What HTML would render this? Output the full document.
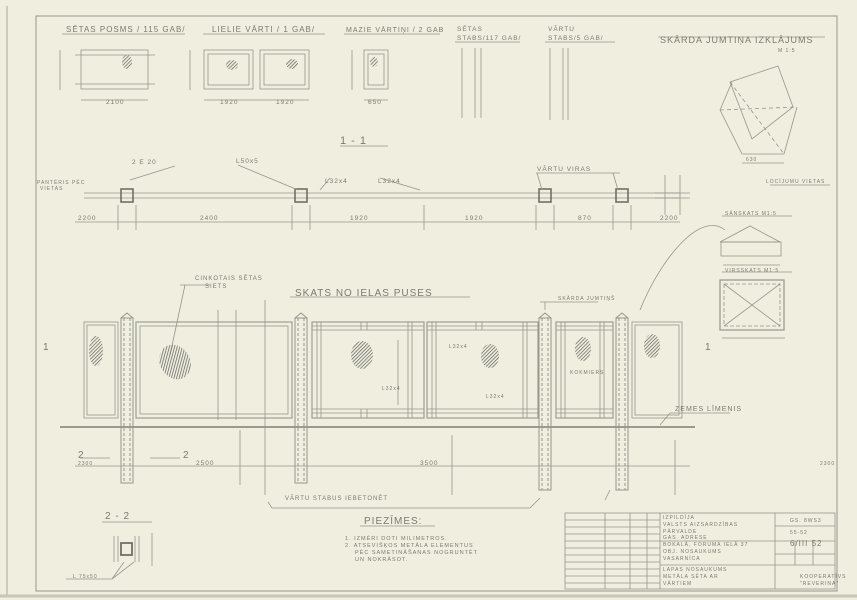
<!DOCTYPE html>
<html><head><meta charset="utf-8"><style>
html,body{margin:0;padding:0;background:#efeedf;}
svg{display:block}
text{font-family:"Liberation Sans",sans-serif;fill:#7a7a72;letter-spacing:1px}
</style></head><body>
<svg width="857" height="600" viewBox="0 0 857 600" xmlns="http://www.w3.org/2000/svg">
<defs>
<pattern id="h" width="2.5" height="2.5" patternUnits="userSpaceOnUse" patternTransform="rotate(45)"><line x1="0" y1="0" x2="0" y2="2.5" stroke="#66665f" stroke-width="1.5"/></pattern>
</defs>
<rect width="857" height="600" fill="#efeedf"/>
<g fill="none" stroke="#96968c" stroke-width="0.8">
<rect x="36" y="16" width="801" height="575" stroke-width="1"/>
<line x1="7" y1="6" x2="7" y2="596"/>
<line x1="0" y1="596" x2="857" y2="596" stroke="#c8c6b8" stroke-width="3"/>
<line x1="62" y1="34" x2="185" y2="34"/><line x1="203" y1="34" x2="325" y2="34"/><line x1="344" y1="34" x2="440" y2="34"/>
<line x1="455" y1="42" x2="520" y2="42"/><line x1="545" y1="42" x2="615" y2="42"/>
<rect x="81" y="50" width="67" height="39"/>
<line x1="75" y1="55" x2="155" y2="55"/><line x1="75" y1="84" x2="155" y2="84"/>
<line x1="60" y1="50" x2="60" y2="90"/><line x1="81" y1="100" x2="148" y2="100"/>
<rect x="204" y="50" width="49" height="39"/><rect x="208" y="54" width="41" height="31"/>
<rect x="260" y="50" width="49" height="39"/><rect x="264" y="54" width="41" height="31"/>
<line x1="190" y1="50" x2="190" y2="90"/><line x1="204" y1="100" x2="309" y2="100"/>
<rect x="364" y="50" width="24" height="39"/><rect x="368" y="54" width="16" height="31"/>
<line x1="352" y1="50" x2="352" y2="90"/><line x1="364" y1="100" x2="388" y2="100"/>
<line x1="462" y1="48" x2="462" y2="118"/><line x1="475" y1="48" x2="475" y2="118"/><line x1="481" y1="48" x2="481" y2="118"/>
<line x1="550" y1="48" x2="550" y2="120"/><line x1="563" y1="48" x2="563" y2="120"/><line x1="568" y1="48" x2="568" y2="120"/>
<line x1="340" y1="146" x2="388" y2="146"/>
<line x1="84" y1="193" x2="680" y2="193"/><line x1="84" y1="198" x2="680" y2="198"/>
<rect x="121" y="189" width="12" height="13" stroke-width="1.6" stroke="#707069"/>
<rect x="295" y="189" width="12" height="13" stroke-width="1.6" stroke="#707069"/>
<rect x="539" y="189" width="12" height="13" stroke-width="1.6" stroke="#707069"/>
<rect x="616" y="189" width="12" height="13" stroke-width="1.6" stroke="#707069"/>
<line x1="75" y1="222" x2="680" y2="222"/>
<line x1="118" y1="205" x2="118" y2="230"/><line x1="136" y1="205" x2="136" y2="230"/><line x1="292" y1="205" x2="292" y2="230"/><line x1="310" y1="205" x2="310" y2="230"/><line x1="424" y1="205" x2="424" y2="230"/><line x1="536" y1="205" x2="536" y2="230"/><line x1="554" y1="205" x2="554" y2="230"/><line x1="613" y1="205" x2="613" y2="230"/><line x1="631" y1="205" x2="631" y2="230"/>
<line x1="130" y1="180" x2="175" y2="166"/><line x1="238" y1="165" x2="298" y2="190"/><line x1="320" y1="190" x2="330" y2="178"/><line x1="380" y1="178" x2="420" y2="190"/>
<line x1="536" y1="173" x2="620" y2="173"/><line x1="537" y1="173" x2="542" y2="190"/><line x1="613" y1="173" x2="618" y2="190"/>
<line x1="665" y1="175" x2="665" y2="215"/><line x1="680" y1="175" x2="680" y2="215"/><line x1="655" y1="193" x2="690" y2="193"/><line x1="655" y1="198" x2="690" y2="198"/>
<line x1="658" y1="37" x2="825" y2="37"/>
<polygon points="730,82 778,66 793,107 752,139"/>
<line x1="732" y1="82" x2="720" y2="110"/><line x1="720" y1="110" x2="742" y2="154"/><line x1="742" y1="154" x2="784" y2="154"/><line x1="784" y1="154" x2="797" y2="107"/>
<line x1="720" y1="110" x2="797" y2="107" stroke-dasharray="4 3"/><line x1="730" y1="82" x2="784" y2="154" stroke-dasharray="4 3"/>
<line x1="742" y1="163" x2="784" y2="163"/><line x1="770" y1="185" x2="830" y2="185"/>
<polygon points="720,242 750,226 780,242"/><rect x="721" y="242" width="60" height="14"/>
<line x1="723" y1="265" x2="780" y2="265"/><line x1="722" y1="216" x2="792" y2="216"/>
<line x1="722" y1="272" x2="792" y2="272"/>
<rect x="720" y="280" width="64" height="50" stroke-width="1.2"/><rect x="724" y="284" width="56" height="42" stroke-dasharray="4 2"/>
<line x1="724" y1="284" x2="780" y2="326"/><line x1="780" y1="284" x2="724" y2="326"/>
<line x1="722" y1="338" x2="785" y2="338"/>
<path d="M725,230 C700,210 660,260 640,310"/>
<line x1="290" y1="297" x2="470" y2="297"/>
<line x1="60" y1="427" x2="695" y2="427" stroke-width="1.4" stroke="#7e7e76"/>
<g stroke-width="1">
<rect x="121" y="318" width="12" height="165"/><line x1="124" y1="318" x2="124" y2="483" stroke-dasharray="3 2"/><line x1="130" y1="318" x2="130" y2="483" stroke-dasharray="3 2"/>
<rect x="295" y="318" width="12" height="165"/><line x1="298" y1="318" x2="298" y2="483" stroke-dasharray="3 2"/><line x1="304" y1="318" x2="304" y2="483" stroke-dasharray="3 2"/>
<rect x="539" y="318" width="12" height="172"/><line x1="542" y1="318" x2="542" y2="490" stroke-dasharray="3 2"/><line x1="548" y1="318" x2="548" y2="490" stroke-dasharray="3 2"/>
<rect x="616" y="318" width="12" height="172"/><line x1="619" y1="318" x2="619" y2="490" stroke-dasharray="3 2"/><line x1="625" y1="318" x2="625" y2="490" stroke-dasharray="3 2"/>
<polyline points="121,318 127,313 133,318"/><polyline points="295,318 301,313 307,318"/><polyline points="539,318 545,313 551,318"/><polyline points="616,318 622,313 628,318"/>
</g>
<rect x="84" y="322" width="34" height="96"/><rect x="87" y="325" width="28" height="90"/>
<rect x="136" y="322" width="156" height="96" stroke-width="1.1"/><rect x="140" y="326" width="148" height="88"/>
<!-- gate 1 -->
<rect x="312" y="322" width="112" height="96" stroke-width="1.1"/>
<line x1="312" y1="326" x2="424" y2="326"/><line x1="312" y1="330" x2="424" y2="330"/><line x1="312" y1="409" x2="424" y2="409"/><line x1="312" y1="413" x2="424" y2="413"/>
<line x1="317" y1="322" x2="317" y2="418"/><line x1="321" y1="322" x2="321" y2="418"/><line x1="408" y1="322" x2="408" y2="418"/><line x1="412" y1="322" x2="412" y2="418"/>
<line x1="361" y1="322" x2="361" y2="330"/><line x1="367" y1="322" x2="367" y2="330"/><line x1="361" y1="409" x2="361" y2="418"/><line x1="367" y1="409" x2="367" y2="418"/>
<!-- gate 2 -->
<rect x="427" y="322" width="111" height="96" stroke-width="1.1"/>
<line x1="427" y1="326" x2="538" y2="326"/><line x1="427" y1="330" x2="538" y2="330"/><line x1="427" y1="409" x2="538" y2="409"/><line x1="427" y1="413" x2="538" y2="413"/>
<line x1="432" y1="322" x2="432" y2="418"/><line x1="436" y1="322" x2="436" y2="418"/><line x1="523" y1="322" x2="523" y2="418"/><line x1="527" y1="322" x2="527" y2="418"/>
<line x1="476" y1="322" x2="476" y2="330"/><line x1="482" y1="322" x2="482" y2="330"/>
<!-- small gate -->
<rect x="556" y="322" width="57" height="96" stroke-width="1.1"/>
<line x1="556" y1="326" x2="613" y2="326"/><line x1="556" y1="330" x2="613" y2="330"/><line x1="556" y1="409" x2="613" y2="409"/><line x1="556" y1="413" x2="613" y2="413"/>
<line x1="561" y1="322" x2="561" y2="418"/><line x1="565" y1="322" x2="565" y2="418"/><line x1="600" y1="322" x2="600" y2="418"/><line x1="604" y1="322" x2="604" y2="418"/>
<rect x="632" y="322" width="50" height="96"/><rect x="635" y="325" width="44" height="90"/>
<line x1="75" y1="466" x2="690" y2="466"/>
<line x1="218" y1="310" x2="218" y2="420"/><line x1="236" y1="310" x2="236" y2="420"/><line x1="240" y1="430" x2="240" y2="485"/>
<line x1="398" y1="340" x2="398" y2="405"/><line x1="265" y1="300" x2="265" y2="495"/>
<line x1="452" y1="435" x2="452" y2="495"/><line x1="675" y1="440" x2="675" y2="495"/>
<polyline points="268,502 272,508 530,508 540,498"/><line x1="605" y1="500" x2="610" y2="490"/>
<line x1="540" y1="302" x2="598" y2="302"/><line x1="545" y1="310" x2="545" y2="302"/>
<line x1="185" y1="285" x2="170" y2="355"/><line x1="180" y1="285" x2="210" y2="285"/>
<line x1="670" y1="413" x2="730" y2="413"/><line x1="660" y1="425" x2="670" y2="413"/>
<line x1="80" y1="458" x2="110" y2="458"/><line x1="150" y1="458" x2="180" y2="458"/>
<line x1="102" y1="522" x2="152" y2="522"/>
<line x1="114" y1="536" x2="114" y2="562"/><line x1="118" y1="536" x2="118" y2="562"/><line x1="135" y1="536" x2="135" y2="562"/><line x1="139" y1="536" x2="139" y2="562"/>
<rect x="121" y="543" width="11" height="12" stroke-width="1.8" stroke="#707069"/>
<line x1="66" y1="579" x2="112" y2="579"/><line x1="112" y1="579" x2="124" y2="562"/><line x1="112" y1="579" x2="134" y2="562"/>
<line x1="152" y1="533" x2="152" y2="566"/>
<line x1="360" y1="526" x2="435" y2="526"/>
<rect x="565" y="513" width="270" height="76"/>
<line x1="605" y1="513" x2="605" y2="589"/><line x1="630" y1="513" x2="630" y2="589"/><line x1="647" y1="513" x2="647" y2="589"/><line x1="660" y1="513" x2="660" y2="589"/>
<line x1="565" y1="520" x2="660" y2="520"/><line x1="565" y1="527" x2="660" y2="527"/><line x1="565" y1="534" x2="660" y2="534"/><line x1="565" y1="541" x2="660" y2="541"/><line x1="565" y1="548" x2="660" y2="548"/><line x1="565" y1="555" x2="660" y2="555"/><line x1="565" y1="562" x2="660" y2="562"/><line x1="565" y1="569" x2="660" y2="569"/><line x1="565" y1="576" x2="660" y2="576"/><line x1="565" y1="583" x2="660" y2="583"/>
<line x1="660" y1="541" x2="835" y2="541"/><line x1="660" y1="565" x2="835" y2="565"/>
<line x1="775" y1="513" x2="775" y2="589"/><line x1="775" y1="526" x2="835" y2="526"/><line x1="775" y1="554" x2="835" y2="554"/><line x1="795" y1="541" x2="795" y2="565"/><line x1="813" y1="541" x2="813" y2="565"/>
</g>
<g fill="url(#h)">
<ellipse cx="127" cy="62" rx="5" ry="7"/><ellipse cx="232" cy="65" rx="6" ry="5"/><ellipse cx="292" cy="64" rx="6" ry="5"/><ellipse cx="374" cy="62" rx="4" ry="5"/>
<ellipse cx="96" cy="351" rx="7" ry="15"/><ellipse cx="175" cy="362" rx="15" ry="18" transform="rotate(-30 175 362)"/>
<ellipse cx="362" cy="355" rx="11" ry="14"/><ellipse cx="490" cy="356" rx="9" ry="12"/><ellipse cx="583" cy="349" rx="8" ry="12"/><ellipse cx="652" cy="346" rx="8" ry="12"/>
</g>
<g font-size="6.5">
<text x="66" y="32" font-size="8">SĒTAS POSMS / 115 GAB/</text>
<text x="212" y="32" font-size="8">LIELIE VĀRTI / 1 GAB/</text>
<text x="346" y="32" font-size="7">MAZIE VĀRTIŅI / 2 GAB</text>
<text x="457" y="31">SĒTAS</text><text x="457" y="40">STABS/117 GAB/</text>
<text x="548" y="31">VĀRTU</text><text x="548" y="40">STABS/5 GAB/</text>
<text x="660" y="43" font-size="9">SKĀRDA JUMTIŅA IZKLĀJUMS</text>
<text x="778" y="52" font-size="5">M 1:5</text>
<text x="106" y="104">2100</text><text x="220" y="104">1920</text><text x="276" y="104">1920</text><text x="368" y="104">650</text>
<text x="340" y="144" font-size="11">1 - 1</text>
<text x="132" y="164">2 E 20</text><text x="236" y="163">L50x5</text><text x="325" y="183">L32x4</text><text x="378" y="183">L32x4</text>
<text x="537" y="171">VĀRTU VIRAS</text>
<text x="37" y="184" font-size="5">PANTĒRIS PĒC</text><text x="40" y="190" font-size="5">VIETAS</text>
<text x="78" y="220">2200</text><text x="200" y="220">2400</text><text x="350" y="220">1920</text><text x="465" y="220">1920</text><text x="578" y="220">870</text><text x="660" y="220">2200</text>
<text x="766" y="183" font-size="5">LOCĪJUMU VIETAS</text><text x="746" y="161" font-size="5">630</text>
<text x="725" y="215" font-size="5">SĀNSKATS M1:5</text><text x="725" y="272" font-size="5">VIRSSKATS M1:5</text>
<text x="195" y="280" font-size="6">CINKOTAIS SĒTAS</text><text x="205" y="288" font-size="6">SIETS</text>
<text x="295" y="296" font-size="10">SKATS NO IELAS PUSES</text>
<text x="558" y="300" font-size="5">SKĀRDA JUMTIŅŠ</text>
<text x="449" y="348" font-size="5">L32x4</text><text x="382" y="390" font-size="5">L32x4</text><text x="486" y="398" font-size="5">L32x4</text><text x="570" y="374" font-size="5">KOKMIERS</text>
<text x="675" y="411" font-size="7">ZEMES LĪMENIS</text>
<text x="43" y="350" font-size="10">1</text><text x="705" y="350" font-size="10">1</text>
<text x="78" y="458" font-size="10">2</text><text x="183" y="458" font-size="10">2</text>
<text x="78" y="465" font-size="5">2300</text><text x="196" y="465">2500</text><text x="420" y="465">3500</text><text x="820" y="465" font-size="5">2300</text>
<text x="285" y="500" font-size="6">VĀRTU STABUS IEBETONĒT</text>
<text x="105" y="519" font-size="10">2 - 2</text>
<text x="73" y="578" font-size="5">L 75x50</text>
<text x="364" y="524" font-size="10">PIEZĪMES:</text>
<text x="345" y="540" font-size="5.5">1. IZMĒRI DOTI MILIMETROS.</text>
<text x="345" y="547" font-size="5.5">2. ATSEVIŠĶOS METĀLA ELEMENTUS</text>
<text x="355" y="554" font-size="5.5">PĒC SAMETINĀŠANAS NOGRUNTĒT</text>
<text x="355" y="561" font-size="5.5">UN NOKRĀSOT.</text>
<g font-size="5"><text x="663" y="519">IZPILDĪJA</text><text x="663" y="526">VALSTS AIZSARDZĪBAS</text><text x="663" y="533">PĀRVALDE</text><text x="663" y="539">GAS. ADRESE</text><text x="663" y="546">BOKALĀ, FORUMA IELĀ 37</text><text x="663" y="553">OBJ. NOSAUKUMS</text><text x="663" y="560">VASARNĪCA</text><text x="663" y="571">LAPAS NOSAUKUMS</text><text x="663" y="578">METĀLA SĒTA AR</text><text x="663" y="585">VĀRTIEM</text>
<text x="790" y="522">GS. 8WS3</text><text x="790" y="534">55-52</text><text x="800" y="578">KOOPERATĪVS</text><text x="800" y="585">"REVERINA"</text></g>
<text x="790" y="546" font-size="8">6/III 52</text>
</g>
</svg>
</body></html>
